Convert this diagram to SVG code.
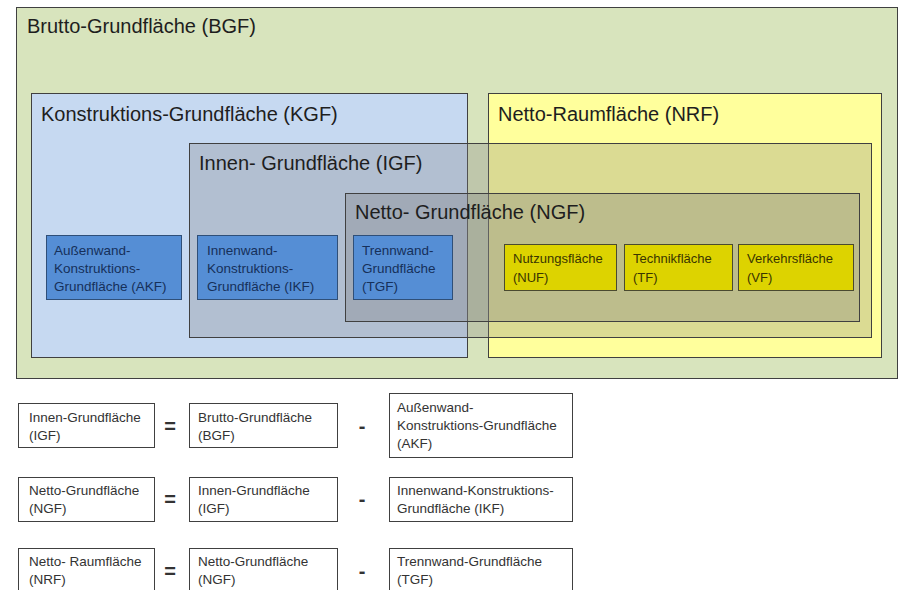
<svg xmlns="http://www.w3.org/2000/svg" width="899" height="590" viewBox="0 0 899 590">
<style>
text{font-family:"Liberation Sans",Arial,sans-serif;fill:#1e1e1e}
.t{font-size:20px}
.s{font-size:13.5px}
.b text{fill:#16305a}
.y text{fill:#3a3600;font-size:13px}
.f text{fill:#333}
.area{stroke:#404040;stroke-width:1}
.ov{fill:#7f7f7f;stroke:#404040;stroke-width:1}
.bl{fill:#558ed5;stroke:#2f4f78;stroke-width:1}
.ye{fill:#ddd300;stroke:#4a4a30;stroke-width:1}
.box{fill:#fff;stroke:#404040;stroke-width:1}
.op{font-size:20px;font-weight:bold;fill:#333;text-anchor:middle}
</style>
<rect width="899" height="590" fill="#ffffff"/>
<g id="BGF"><rect class="area" x="16.5" y="7.5" width="881" height="371" fill="#d8e4bd"/><text class="t" x="27" y="33">Brutto-Grundfläche (BGF)</text></g>
<g id="KGF"><rect class="area" x="31.5" y="93.5" width="436" height="264" fill="#c6d9f1"/><text class="t" x="41" y="121">Konstruktions-Grundfläche (KGF)</text></g>
<g id="NRF"><rect class="area" x="488.5" y="93.5" width="393" height="264" fill="#ffff9c"/><text class="t" x="498" y="121">Netto-Raumfläche (NRF)</text></g>
<g id="IGF"><rect class="ov" x="189.5" y="143.5" width="682" height="194" fill-opacity="0.28"/><text class="t" x="199" y="170">Innen- Grundfläche (IGF)</text></g>
<g id="NGF"><rect class="ov" x="345.5" y="193.5" width="514" height="128" fill-opacity="0.32"/><text class="t" x="355" y="219">Netto- Grundfläche (NGF)</text></g>
<g id="AKF" class="b"><rect class="bl" x="46.5" y="235.5" width="135" height="64"/><text class="s" x="54" y="255">Außenwand-</text><text class="s" x="54" y="273">Konstruktions-</text><text class="s" x="54" y="291">Grundfläche (AKF)</text></g>
<g id="IKF" class="b"><rect class="bl" x="197.5" y="235.5" width="140" height="64"/><text class="s" x="207" y="255">Innenwand-</text><text class="s" x="207" y="273">Konstruktions-</text><text class="s" x="207" y="291">Grundfläche (IKF)</text></g>
<g id="TGF" class="b"><rect class="bl" x="353.5" y="235.5" width="99" height="64"/><text class="s" x="362" y="255">Trennwand-</text><text class="s" x="362" y="273">Grundfläche</text><text class="s" x="362" y="291">(TGF)</text></g>
<g id="NUF" class="y"><rect class="ye" x="504.5" y="244.5" width="112" height="46"/><text x="513" y="263">Nutzungsfläche</text><text x="513" y="282">(NUF)</text></g>
<g id="TF" class="y"><rect class="ye" x="624.5" y="244.5" width="108" height="46"/><text x="633" y="263">Technikfläche</text><text x="633" y="282">(TF)</text></g>
<g id="VF" class="y"><rect class="ye" x="738.5" y="244.5" width="115" height="46"/><text x="747" y="263">Verkehrsfläche</text><text x="747" y="282">(VF)</text></g>
<g id="connectors"></g>
<g id="eq1" class="f">
<rect class="box" x="18.5" y="403.5" width="136" height="44"/><text class="s" x="29" y="422">Innen-Grundfläche</text><text class="s" x="29" y="440">(IGF)</text>
<text class="op" x="170" y="433">=</text>
<rect class="box" x="189.5" y="403.5" width="148" height="44"/><text class="s" x="198" y="422">Brutto-Grundfläche</text><text class="s" x="198" y="440">(BGF)</text>
<text class="op" x="362" y="433">-</text>
<rect class="box" x="389.5" y="393.5" width="183" height="64"/><text class="s" x="397" y="412">Außenwand-</text><text class="s" x="397" y="430">Konstruktions-Grundfläche</text><text class="s" x="397" y="448">(AKF)</text>
</g>
<g id="eq2" class="f">
<rect class="box" x="18.5" y="477.5" width="136" height="44"/><text class="s" x="29" y="495">Netto-Grundfläche</text><text class="s" x="29" y="513">(NGF)</text>
<text class="op" x="170" y="506">=</text>
<rect class="box" x="189.5" y="477.5" width="148" height="44"/><text class="s" x="198" y="495">Innen-Grundfläche</text><text class="s" x="198" y="513">(IGF)</text>
<text class="op" x="362" y="506">-</text>
<rect class="box" x="389.5" y="477.5" width="183" height="44"/><text class="s" x="397" y="495">Innenwand-Konstruktions-</text><text class="s" x="397" y="513">Grundfläche (IKF)</text>
</g>
<g id="eq3" class="f">
<rect class="box" x="18.5" y="548.5" width="136" height="60"/><text class="s" x="29" y="566">Netto- Raumfläche</text><text class="s" x="29" y="584">(NRF)</text>
<text class="op" x="170" y="578">=</text>
<rect class="box" x="189.5" y="548.5" width="148" height="60"/><text class="s" x="198" y="566">Netto-Grundfläche</text><text class="s" x="198" y="584">(NGF)</text>
<text class="op" x="362" y="578">-</text>
<rect class="box" x="389.5" y="548.5" width="183" height="60"/><text class="s" x="397" y="566">Trennwand-Grundfläche</text><text class="s" x="397" y="584">(TGF)</text>
</g>
</svg>
